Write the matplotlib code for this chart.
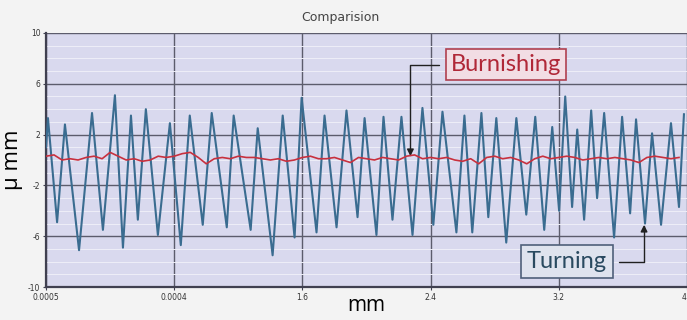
import numpy as np
import matplotlib
matplotlib.use("Agg")
import matplotlib.pyplot as plt
from matplotlib.ticker import MultipleLocator

# Turning profile: alternating troughs / peaks (mm, um)
turn_x = [0.000, 0.012, 0.069, 0.118, 0.206, 0.287, 0.355, 0.430, 0.480, 0.530,
          0.573, 0.623, 0.698, 0.773, 0.841, 0.897, 0.978, 1.034, 1.128, 1.171,
          1.277, 1.321, 1.414, 1.477, 1.551, 1.595, 1.688, 1.738, 1.813, 1.875,
          1.944, 1.988, 2.062, 2.106, 2.162, 2.218, 2.287, 2.349, 2.417, 2.474,
          2.561, 2.611, 2.660, 2.717, 2.760, 2.810, 2.872, 2.935, 2.997, 3.053,
          3.109, 3.159, 3.202, 3.240, 3.283, 3.315, 3.358, 3.402, 3.439, 3.483,
          3.545, 3.595, 3.645, 3.682, 3.738, 3.782, 3.838, 3.900, 3.950, 3.981]
turn_y = [1.0, 3.3, -4.9, 2.8, -7.1, 3.7, -5.5, 5.1, -6.9, 3.5,
          -4.7, 4.0, -5.9, 2.9, -6.7, 3.5, -5.1, 3.7, -5.3, 3.5,
          -5.5, 2.5, -7.5, 3.5, -6.1, 4.9, -5.7, 3.5, -5.3, 3.9,
          -4.5, 3.3, -5.9, 3.4, -4.7, 3.4, -5.9, 4.1, -5.1, 3.8,
          -5.7, 3.5, -5.7, 3.7, -4.5, 3.3, -6.5, 3.3, -4.3, 3.4,
          -5.5, 2.6, -4.0, 5.0, -3.7, 2.4, -4.7, 3.9, -3.0, 3.7,
          -6.1, 3.4, -4.2, 3.2, -5.0, 2.1, -5.1, 2.9, -3.7, 3.6]

# Burnishing profile, sampled every 0.05 mm
burn_x = [0.00, 0.05, 0.10, 0.15, 0.20, 0.25, 0.30, 0.35, 0.40, 0.45,
          0.50, 0.55, 0.60, 0.65, 0.70, 0.75, 0.80, 0.85, 0.90, 0.95,
          1.00, 1.05, 1.10, 1.15, 1.20, 1.25, 1.30, 1.35, 1.40, 1.45,
          1.50, 1.55, 1.60, 1.65, 1.70, 1.75, 1.80, 1.85, 1.90, 1.95,
          2.00, 2.05, 2.10, 2.15, 2.20, 2.25, 2.30, 2.35, 2.40, 2.45,
          2.50, 2.55, 2.60, 2.65, 2.70, 2.75, 2.80, 2.85, 2.90, 2.95,
          3.00, 3.05, 3.10, 3.15, 3.20, 3.25, 3.30, 3.35, 3.40, 3.45,
          3.50, 3.55, 3.60, 3.65, 3.70, 3.75, 3.80, 3.85, 3.90, 3.95]
burn_y = [0.3, 0.4, 0.0, 0.1, 0.0, 0.2, 0.3, 0.1, 0.6, 0.3,
          0.0, 0.1, -0.1, 0.0, 0.3, 0.2, 0.3, 0.5, 0.6, 0.2,
          -0.3, 0.1, 0.2, 0.1, 0.3, 0.2, 0.2, 0.1, 0.0, 0.1,
          -0.1, 0.0, 0.2, 0.3, 0.1, 0.1, 0.2, 0.0, -0.2, 0.2,
          0.1, 0.0, 0.2, 0.1, 0.0, 0.3, 0.4, 0.1, 0.2, 0.1,
          0.2, 0.0, -0.1, 0.1, -0.3, 0.2, 0.3, 0.1, 0.2, 0.0,
          -0.3, 0.1, 0.3, 0.1, 0.2, 0.3, 0.2, 0.0, 0.1, 0.2,
          0.1, 0.2, 0.1, 0.0, -0.2, 0.2, 0.3, 0.2, 0.1, 0.2]

x_ticks = [0.0, 0.8, 1.6, 2.4, 3.2, 4.0]
x_tick_labels = ["0.0005", "0.0004", "1.6", "2.4", "3.2", "4"]
y_ticks = [-10, -6, -2, 2, 6, 10]
y_tick_labels = ["-10", "-6", "-2", "2", "6", "10"]

fig = plt.figure(figsize=(6.87, 3.2), dpi=100, facecolor="#f3f3f3")
ax = fig.add_axes([0.067, 0.103, 0.933, 0.794])
ax.set_facecolor("#d9d9ee")

ax.set_xlim(0, 4.0)
ax.set_ylim(-10, 10)

# grid
ax.yaxis.set_minor_locator(MultipleLocator(1))
ax.grid(which="minor", axis="y", color="#eeeef8", lw=0.7)
ax.grid(which="major", color="#5c5c6c", lw=1.0)
ax.set_axisbelow(True)

ax.plot(turn_x, turn_y, color="#3a6c90", lw=1.5, zorder=3)
ax.plot(burn_x, burn_y, color="#c8303e", lw=1.2, zorder=4)

ax.set_xticks(x_ticks)
ax.set_xticklabels(x_tick_labels, fontsize=5.5, color="#333333")
ax.get_xticklabels()[-1].set_ha("right")
ax.set_yticks(y_ticks)
ax.set_yticklabels(y_tick_labels, fontsize=5.5, color="#333333")
ax.tick_params(length=2, pad=2, color="#404050")
ax.tick_params(which="minor", length=0)

for side in ["top", "right"]:
    ax.spines[side].set_visible(False)
for side in ["left", "bottom"]:
    ax.spines[side].set_color("#404050")
    ax.spines[side].set_linewidth(1.6)

ax.set_xlabel("mm", fontsize=15, labelpad=-5, family="Open Sans")
ax.set_ylabel("\u03bc mm", fontsize=16, labelpad=4, family="Open Sans")

fig.text(0.495, 0.945, "Comparision", ha="center", va="center",
         fontsize=9, color="#444444")

# annotation boxes
ax.text(2.87, 7.5, "Burnishing", ha="center", va="center", fontsize=17,
        color="#b02838", family="Lato",
        bbox=dict(boxstyle="square,pad=0.22", fc="#f2dde4", ec="#b04050", lw=1.2))
ax.annotate("", xy=(2.274, 0.3), xytext=(2.455, 7.5),
            arrowprops=dict(arrowstyle="-|>", color="#202020", lw=1.0,
                            connectionstyle="angle,angleA=0,angleB=90,rad=0",
                            shrinkA=0, shrinkB=0))

ax.text(3.25, -8.0, "Turning", ha="center", va="center", fontsize=17,
        color="#2a4a60", family="Lato",
        bbox=dict(boxstyle="square,pad=0.25", fc="#dfe3ee", ec="#50607a", lw=1.2))
ax.annotate("", xy=(3.732, -5.1), xytext=(3.576, -8.0),
            arrowprops=dict(arrowstyle="-|>", color="#202020", lw=1.0,
                            connectionstyle="angle,angleA=0,angleB=90,rad=0",
                            shrinkA=0, shrinkB=0))

fig.savefig("out.png", dpi=100, facecolor=fig.get_facecolor())
